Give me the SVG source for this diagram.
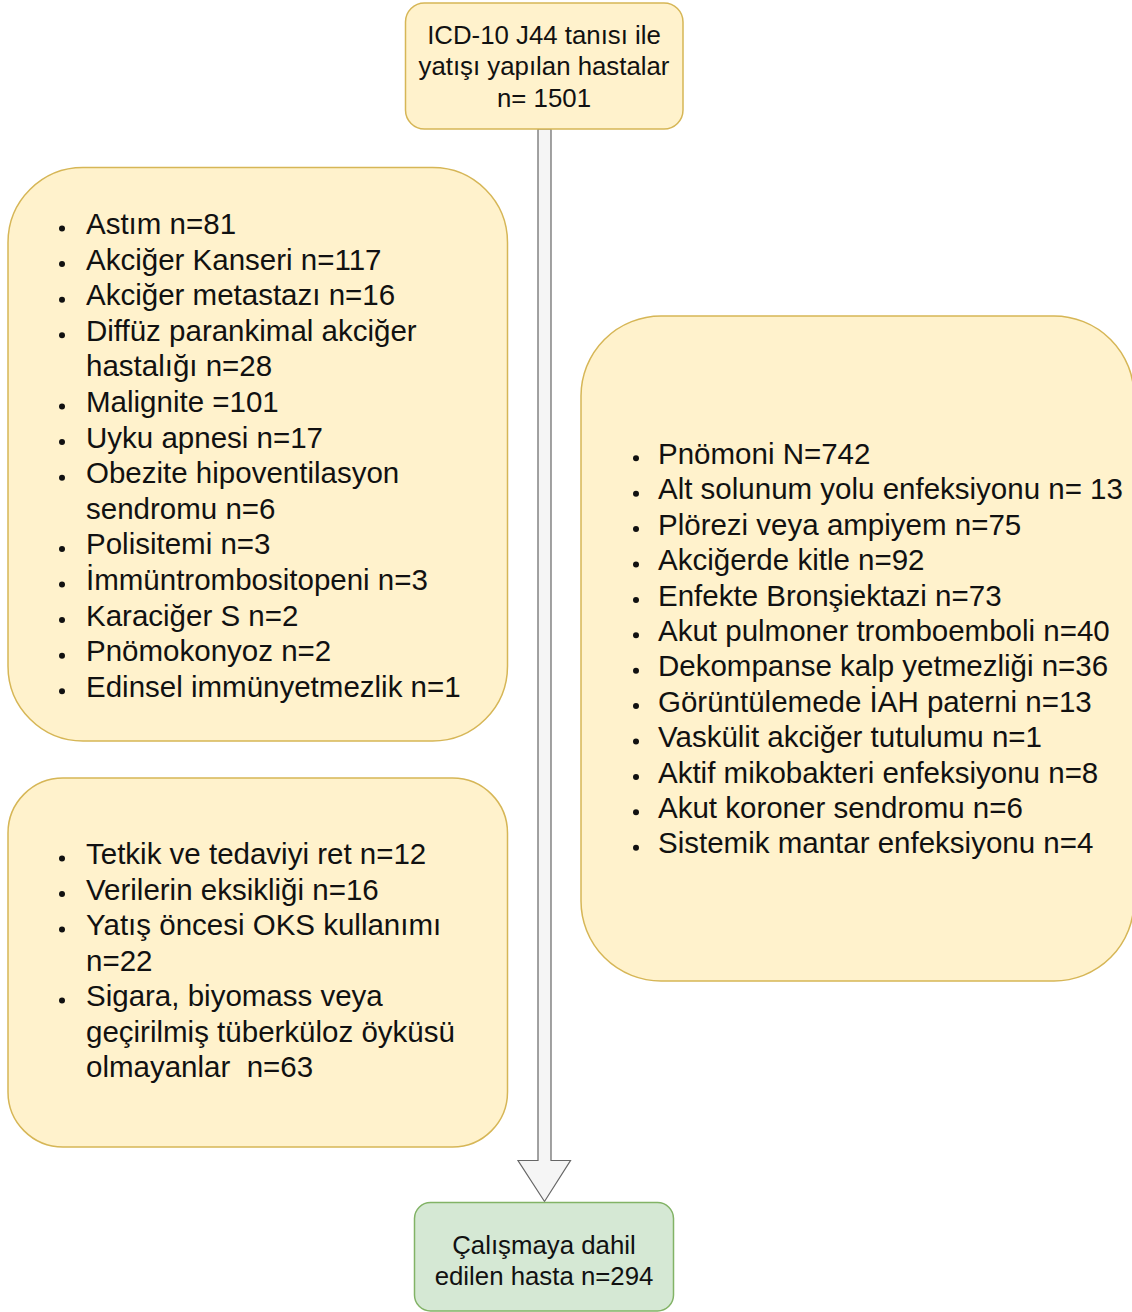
<svg xmlns="http://www.w3.org/2000/svg" width="1132" height="1312" viewBox="0 0 1132 1312">
<style>
.y{fill:#fff2cc;stroke:#d6b656;stroke-width:1.5}
.g{fill:#d5e8d4;stroke:#82b366;stroke-width:1.5}
.arrow{fill:#f5f5f5;stroke:#666666;stroke-width:1.2;stroke-linejoin:miter}
.c{font-family:"Liberation Sans",Arial,sans-serif;font-size:25.8px;fill:#111;text-anchor:middle}
.l{font-family:"Liberation Sans",Arial,sans-serif;font-size:29.5px;fill:#111}
.b{fill:#111}
</style>
<rect width="1132" height="1312" fill="#ffffff"/>
<g id="connectors">
<path class="arrow" d="M538 129 L551 129 L551 1160.5 L570.5 1160.5 L544.5 1201.5 L518 1160.5 L538 1160.5 Z"/>
</g>
<g id="node-start">
<rect class="y" x="405.5" y="3" width="277.5" height="126" rx="19" ry="19"/>
<text class="c" x="544" y="43.5">ICD-10 J44 tanısı ile</text>
<text class="c" x="544" y="75">yatışı yapılan hastalar</text>
<text class="c" x="544" y="106.5">n= 1501</text>
</g>
<g id="node-excl1">
<rect class="y" x="8" y="167.5" width="499.5" height="573.5" rx="75" ry="75"/>
<g class="b">
<circle cx="62" cy="228.5" r="3"/>
<circle cx="62" cy="264.1" r="3"/>
<circle cx="62" cy="299.7" r="3"/>
<circle cx="62" cy="335.3" r="3"/>
<circle cx="62" cy="406.5" r="3"/>
<circle cx="62" cy="442.1" r="3"/>
<circle cx="62" cy="477.7" r="3"/>
<circle cx="62" cy="548.9" r="3"/>
<circle cx="62" cy="584.5" r="3"/>
<circle cx="62" cy="620.1" r="3"/>
<circle cx="62" cy="655.7" r="3"/>
<circle cx="62" cy="691.3" r="3"/>
</g>
<text class="l" x="86" y="234">Astım n=81</text>
<text class="l" x="86" y="269.6">Akciğer Kanseri n=117</text>
<text class="l" x="86" y="305.2">Akciğer metastazı n=16</text>
<text class="l" x="86" y="340.8">Diffüz parankimal akciğer</text>
<text class="l" x="86" y="376.4">hastalığı n=28</text>
<text class="l" x="86" y="412">Malignite =101</text>
<text class="l" x="86" y="447.6">Uyku apnesi n=17</text>
<text class="l" x="86" y="483.2">Obezite hipoventilasyon</text>
<text class="l" x="86" y="518.8">sendromu n=6</text>
<text class="l" x="86" y="554.4">Polisitemi n=3</text>
<text class="l" x="86" y="590">İmmüntrombositopeni n=3</text>
<text class="l" x="86" y="625.6">Karaciğer S n=2</text>
<text class="l" x="86" y="661.2">Pnömokonyoz n=2</text>
<text class="l" x="86" y="696.8">Edinsel immünyetmezlik n=1</text>
</g>
<g id="node-excl2">
<rect class="y" x="8" y="778" width="499.5" height="369" rx="55" ry="55"/>
<g class="b">
<circle cx="62" cy="858.5" r="3"/>
<circle cx="62" cy="894" r="3"/>
<circle cx="62" cy="929.5" r="3"/>
<circle cx="62" cy="1000.5" r="3"/>
</g>
<text class="l" x="86" y="864">Tetkik ve tedaviyi ret n=12</text>
<text class="l" x="86" y="899.5">Verilerin eksikliği n=16</text>
<text class="l" x="86" y="935">Yatış öncesi OKS kullanımı</text>
<text class="l" x="86" y="970.5">n=22</text>
<text class="l" x="86" y="1006">Sigara, biyomass veya</text>
<text class="l" x="86" y="1041.5">geçirilmiş tüberküloz öyküsü</text>
<text class="l" x="86" y="1077" xml:space="preserve">olmayanlar  n=63</text>
</g>
<g id="node-excl3">
<rect class="y" x="581" y="316" width="553" height="665" rx="80" ry="80"/>
<g class="b">
<circle cx="636" cy="458.3" r="3"/>
<circle cx="636" cy="493.7" r="3"/>
<circle cx="636" cy="529.1" r="3"/>
<circle cx="636" cy="564.5" r="3"/>
<circle cx="636" cy="599.9" r="3"/>
<circle cx="636" cy="635.3" r="3"/>
<circle cx="636" cy="670.7" r="3"/>
<circle cx="636" cy="706.1" r="3"/>
<circle cx="636" cy="741.5" r="3"/>
<circle cx="636" cy="776.9" r="3"/>
<circle cx="636" cy="812.3" r="3"/>
<circle cx="636" cy="847.7" r="3"/>
</g>
<text class="l" x="658" y="464">Pnömoni N=742</text>
<text class="l" x="658" y="499.4">Alt solunum yolu enfeksiyonu n= 13</text>
<text class="l" x="658" y="534.8">Plörezi veya ampiyem n=75</text>
<text class="l" x="658" y="570.2">Akciğerde kitle n=92</text>
<text class="l" x="658" y="605.6">Enfekte Bronşiektazi n=73</text>
<text class="l" x="658" y="641">Akut pulmoner tromboemboli n=40</text>
<text class="l" x="658" y="676.4">Dekompanse kalp yetmezliği n=36</text>
<text class="l" x="658" y="711.8">Görüntülemede İAH paterni n=13</text>
<text class="l" x="658" y="747.2">Vaskülit akciğer tutulumu n=1</text>
<text class="l" x="658" y="782.6">Aktif mikobakteri enfeksiyonu n=8</text>
<text class="l" x="658" y="818">Akut koroner sendromu n=6</text>
<text class="l" x="658" y="853.4">Sistemik mantar enfeksiyonu n=4</text>
</g>
<g id="node-end">
<rect class="g" x="414.5" y="1202.5" width="259" height="108.5" rx="16" ry="16"/>
<text class="c" x="544" y="1254">Çalışmaya dahil</text>
<text class="c" x="544" y="1285">edilen hasta n=294</text>
</g>
</svg>
